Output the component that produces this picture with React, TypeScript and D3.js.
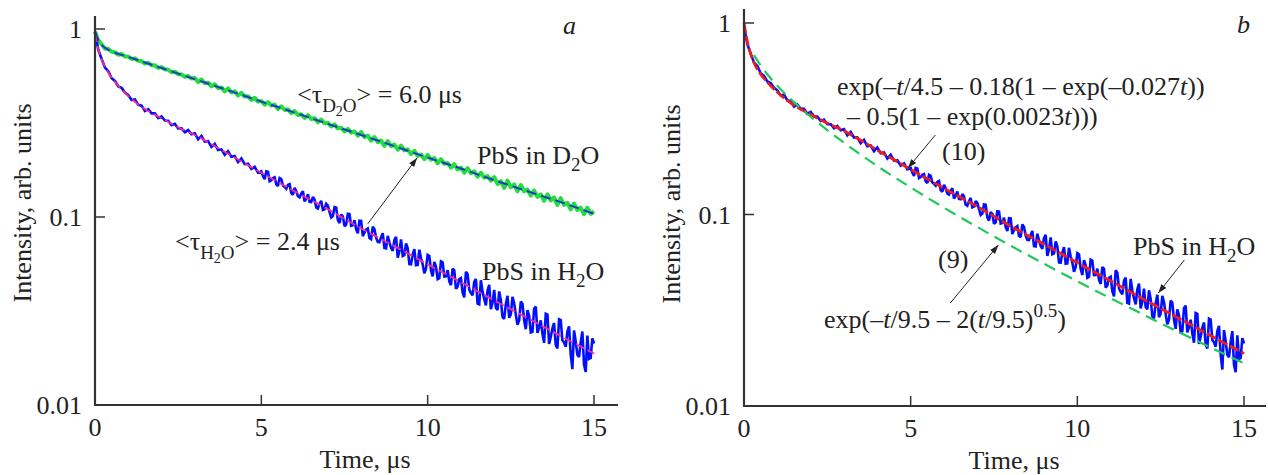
import React from "react";
import * as d3 from "d3";

// Measured PL decays, sampled every 0.1 us from 0 to 15 us
const timeGrid = d3.range(0, 151).map((i) => i / 10);

const h2oMeasured = [
  0.958, 0.775, 0.692, 0.623, 0.596, 0.547, 0.529, 0.495, 0.486, 0.459,
  0.445, 0.419, 0.422, 0.395, 0.391, 0.366, 0.375, 0.356, 0.356, 0.336,
  0.343, 0.326, 0.325, 0.308, 0.313, 0.296, 0.296, 0.282, 0.29, 0.2755,
  0.279, 0.259, 0.27, 0.252, 0.253, 0.236, 0.245, 0.227, 0.229, 0.214,
  0.224, 0.209, 0.211, 0.196, 0.205, 0.191, 0.192, 0.18, 0.185, 0.172,
  0.175, 0.159, 0.174, 0.157, 0.1625, 0.146, 0.159, 0.1445, 0.148, 0.134,
  0.143, 0.129, 0.133, 0.121, 0.132, 0.12, 0.124, 0.111, 0.122, 0.11,
  0.115, 0.0994, 0.113, 0.0965, 0.103, 0.0894, 0.104, 0.0897, 0.0962, 0.0819,
  0.0954, 0.0827, 0.0869, 0.0762, 0.0861, 0.0738, 0.0781, 0.0684, 0.0793, 0.0684,
  0.0755, 0.0607, 0.076, 0.0626, 0.0682, 0.056, 0.0675, 0.0556, 0.0603, 0.0502,
  0.0628, 0.052, 0.0577, 0.0467, 0.0581, 0.0482, 0.0522, 0.0434, 0.052, 0.0426,
  0.0473, 0.0374, 0.0497, 0.0394, 0.0451, 0.0346, 0.0461, 0.0366, 0.0407, 0.0323,
  0.041, 0.032, 0.0361, 0.0287, 0.0381, 0.0303, 0.0348, 0.0267, 0.0355, 0.0282,
  0.032, 0.0243, 0.0325, 0.0242, 0.0282, 0.0214, 0.0303, 0.023, 0.0273, 0.02,
  0.0283, 0.0215, 0.0246, 0.0186, 0.0249, 0.0185, 0.0216, 0.0164, 0.0234, 0.0178,
  0.0212,
];

// extra H2O samples in between (t = 5.05 ... 14.95 us), where the noise is dense
const midGrid = d3.range(0, 100).map((i) => 5.05 + i / 10);
const h2oMeasuredMid = [
  0.165, 0.175, 0.155, 0.161, 0.149, 0.161, 0.147, 0.1414, 0.1495, 0.1314,
  0.1371, 0.1272, 0.1371, 0.1251, 0.1205, 0.1279, 0.1125, 0.1174, 0.109, 0.1175,
  0.1065, 0.1012, 0.1124, 0.0929, 0.1009, 0.091, 0.1036, 0.0903, 0.086, 0.0956,
  0.0791, 0.0856, 0.0774, 0.0888, 0.0776, 0.0735, 0.082, 0.0681, 0.0734, 0.0661,
  0.0783, 0.0658, 0.062, 0.0723, 0.0562, 0.0631, 0.0554, 0.067, 0.0561, 0.0531,
  0.062, 0.0483, 0.0543, 0.0473, 0.0574, 0.0483, 0.0455, 0.0532, 0.0415, 0.0467,
  0.0397, 0.0511, 0.0411, 0.0383, 0.0468, 0.0343, 0.0401, 0.0339, 0.0436, 0.0351,
  0.0329, 0.0402, 0.0294, 0.0344, 0.0291, 0.0376, 0.0302, 0.0282, 0.0346, 0.0253,
  0.0298, 0.0245, 0.0334, 0.0259, 0.0239, 0.0306, 0.0211, 0.0256, 0.0209, 0.0286,
  0.0221, 0.0204, 0.0262, 0.0155, 0.0218, 0.018, 0.0246, 0.015, 0.0176, 0.0226,
];

const d2oMeasured = [
  0.97, 0.869, 0.828, 0.785, 0.784, 0.756, 0.753, 0.729, 0.736, 0.715,
  0.714, 0.693, 0.698, 0.677, 0.675, 0.655, 0.661, 0.642, 0.641, 0.621,
  0.627, 0.61, 0.607, 0.589, 0.593, 0.575, 0.573, 0.557, 0.562, 0.546,
  0.549, 0.522, 0.539, 0.515, 0.518, 0.495, 0.508, 0.484, 0.489, 0.466,
  0.483, 0.46, 0.466, 0.443, 0.458, 0.437, 0.439, 0.42, 0.431, 0.411,
  0.414, 0.396, 0.409, 0.391, 0.396, 0.375, 0.388, 0.371, 0.374, 0.357,
  0.366, 0.349, 0.352, 0.336, 0.348, 0.332, 0.336, 0.319, 0.33, 0.315,
  0.317, 0.303, 0.311, 0.296, 0.298, 0.285, 0.294, 0.281, 0.285, 0.271,
  0.283, 0.266, 0.271, 0.255, 0.266, 0.25, 0.255, 0.239, 0.253, 0.238,
  0.243, 0.228, 0.24, 0.226, 0.229, 0.216, 0.225, 0.211, 0.215, 0.203,
  0.214, 0.202, 0.206, 0.193, 0.203, 0.192, 0.194, 0.183, 0.191, 0.179,
  0.183, 0.172, 0.182, 0.171, 0.175, 0.164, 0.172, 0.162, 0.165, 0.156,
  0.163, 0.15, 0.155, 0.143, 0.156, 0.144, 0.149, 0.137, 0.148, 0.137,
  0.14, 0.13, 0.138, 0.128, 0.132, 0.122, 0.132, 0.1225, 0.127, 0.116,
  0.126, 0.116, 0.119, 0.11, 0.118, 0.109, 0.112, 0.1035, 0.112, 0.104,
  0.107,
];

// Fitted curves
const fitTimes = [0, 0.1, 0.2, 0.3, 0.5, 0.7, 1, 1.5, 2, 2.5, 3, 4, 5, 6, 7, 8, 9, 10, 11, 12, 13, 14, 15];
const h2oFit = [0.95, 0.78, 0.69, 0.63, 0.55, 0.5, 0.44, 0.375, 0.335, 0.3, 0.273, 0.217, 0.172, 0.137, 0.11, 0.087, 0.07, 0.056, 0.045, 0.036, 0.029, 0.0233, 0.0188];
const d2oFit = [0.97, 0.875, 0.825, 0.795, 0.76, 0.737, 0.71, 0.663, 0.62, 0.579, 0.541, 0.472, 0.411, 0.359, 0.313, 0.273, 0.238, 0.207, 0.181, 0.157, 0.137, 0.12, 0.104];
const model10 = [1.0, 0.8, 0.69, 0.62, 0.54, 0.49, 0.435, 0.372, 0.333, 0.3, 0.273, 0.217, 0.172, 0.137, 0.11, 0.087, 0.07, 0.056, 0.045, 0.036, 0.029, 0.0233, 0.0188];
const model9Times = [0.3, 0.5, 0.75, 1, 1.5, 2, 3, 4, 5, 6, 7, 8, 9, 10, 11, 12, 13, 14, 15];
const model9 = [0.68, 0.6, 0.527, 0.47, 0.386, 0.324, 0.237, 0.179, 0.1385, 0.1085, 0.086, 0.0687, 0.0553, 0.0448, 0.0365, 0.0299, 0.0245, 0.0202, 0.0167];

const xTicks = [0, 5, 10, 15];
const yTicks = [1, 0.1, 0.01];
const yTickLabels = ["1", "0.1", "0.01"];

const FONT = '"Liberation Serif", "Times New Roman", Times, serif';
const AXIS = "#333";
const BLUE = "#0010ff";

type Scale = d3.ScaleLinear<number, number>;
type LogScale = d3.ScaleLogarithmic<number, number>;

const zip = (t: number[], v: number[]) => t.map((d, i) => [d, v[i]] as [number, number]);

function makeLine(x: Scale, y: LogScale, curve = d3.curveLinear) {
  return d3
    .line<[number, number]>()
    .x((d) => x(d[0]))
    .y((d) => y(d[1]))
    .curve(curve);
}

function Axes({ x, y, axisEnd, axisTop, titleX, titleY, timeX }: any) {
  const x0 = x(0);
  const y0 = y(0.01);
  return (
    <g fontFamily={FONT} fontSize={26} fill="#222">
      <line x1={x0} y1={axisTop} x2={x0} y2={y0} stroke={AXIS} strokeWidth={2.2} />
      <line x1={x0 - 1} y1={y0} x2={axisEnd} y2={y0} stroke={AXIS} strokeWidth={2.2} />
      {xTicks.map((t) => (
        <g key={t}>
          {t > 0 && <line x1={x(t)} x2={x(t)} y1={y0} y2={y0 - 10} stroke={AXIS} strokeWidth={1.5} />}
          <text x={x(t)} y={y0 + 31} textAnchor="middle">
            {t}
          </text>
        </g>
      ))}
      {yTicks.map((v, i) => (
        <g key={v}>
          {v > 0.01 && <line x1={x0} x2={x0 + 10} y1={y(v)} y2={y(v)} stroke={AXIS} strokeWidth={1.5} />}
          <text x={x0 - 13} y={y(v) + 9} textAnchor="end">
            {yTickLabels[i]}
          </text>
        </g>
      ))}
      <text transform={`translate(${titleX},${titleY}) rotate(-90)`} textAnchor="middle">
        Intensity, arb. units
      </text>
      <text x={timeX} y={y0 + 63} textAnchor="middle">
        Time, μs
      </text>
    </g>
  );
}

function Arrow({ from, to, x, y }: any) {
  return (
    <line
      x1={x(from[0])}
      y1={y(from[1])}
      x2={x(to[0])}
      y2={y(to[1])}
      stroke="#222"
      strokeWidth={1}
      markerEnd="url(#arrowHead)"
    />
  );
}

export default function App() {
  // panel a
  const xa = d3.scaleLinear().domain([0, 15]).range([95, 594]);
  const ya = d3.scaleLog().domain([0.01, 1]).range([405, 29]);
  // panel b
  const xb = d3.scaleLinear().domain([0, 15]).range([744, 1244]);
  const yb = d3.scaleLog().domain([0.01, 1]).range([406, 23]);

  const la = makeLine(xa, ya);
  const lafit = makeLine(xa, ya, d3.curveMonotoneX);
  const lb = makeLine(xb, yb);
  const lbfit = makeLine(xb, yb, d3.curveMonotoneX);

  const h2oData = zip(timeGrid, h2oMeasured)
    .concat(zip(midGrid, h2oMeasuredMid))
    .sort((p, q) => p[0] - q[0]);
  const d2oData = zip(timeGrid, d2oMeasured);

  const sub = { fontSize: 19 };
  const sub2 = { fontSize: 14 };

  return (
    <svg width={1268} height={475} style={{ position: "absolute", left: 0, top: 0, background: "#fff" }}>
      <defs>
        <marker id="arrowHead" viewBox="0 0 10 10" refX={10} refY={5} markerWidth={9} markerHeight={9} markerUnits="userSpaceOnUse" orient="auto">
          <path d="M0,1.5 L10,5 L0,8.5 z" fill="#222" />
        </marker>
      </defs>

      {/* ---- panel a ---- */}
      <path d={la(d2oData) || ""} fill="none" stroke="#22dd3c" strokeWidth={4} strokeLinejoin="round" />
      <path d={lafit(zip(fitTimes, d2oFit)) || ""} fill="none" stroke="#1c3cc8" strokeWidth={2} strokeDasharray="10 5" />
      <path d={la(h2oData) || ""} fill="none" stroke={BLUE} strokeWidth={2.6} strokeLinejoin="miter" strokeMiterlimit={2} />
      <path d={lafit(zip(fitTimes, h2oFit)) || ""} fill="none" stroke="#ff2a86" strokeWidth={1.8} strokeDasharray="9 4" />
      <Axes x={xa} y={ya} axisEnd={618} axisTop={16} titleX={31} titleY={203} timeX={365} />
      <Arrow x={xa} y={ya} from={[8.2, 0.092]} to={[9.68, 0.206]} />
      <g fontFamily={FONT} fontSize={26} fill="#222">
        <text x={563} y={34} fontStyle="italic">a</text>
        <text x={297} y={103}>
          {"<τ"}
          <tspan dy={9} {...sub}>D</tspan>
          <tspan dy={4} {...sub2}>2</tspan>
          <tspan dy={-4} {...sub}>O</tspan>
          <tspan dy={-9}>{"> = 6.0 μs"}</tspan>
        </text>
        <text x={477} y={164}>
          PbS in D<tspan dy={7} {...sub}>2</tspan>
          <tspan dy={-7}>O</tspan>
        </text>
        <text x={175} y={250}>
          {"<τ"}
          <tspan dy={9} {...sub}>H</tspan>
          <tspan dy={4} {...sub2}>2</tspan>
          <tspan dy={-4} {...sub}>O</tspan>
          <tspan dy={-9}>{"> = 2.4 μs"}</tspan>
        </text>
        <text x={482} y={280}>
          PbS in H<tspan dy={7} {...sub}>2</tspan>
          <tspan dy={-7}>O</tspan>
        </text>
      </g>

      {/* ---- panel b ---- */}
      <path d={lb(h2oData) || ""} fill="none" stroke={BLUE} strokeWidth={2.6} strokeLinejoin="miter" strokeMiterlimit={2} />
      <path d={lbfit(zip(fitTimes, model10)) || ""} fill="none" stroke="#ee1c1c" strokeWidth={2.8} strokeDasharray="10 3" />
      <path d={lbfit(zip(model9Times, model9)) || ""} fill="none" stroke="#20c85a" strokeWidth={2.2} strokeDasharray="12 7" />
      <Axes x={xb} y={yb} axisEnd={1266} axisTop={9} titleX={680} titleY={204} timeX={1014} />
      <Arrow x={xb} y={yb} from={[5.74, 0.26]} to={[4.92, 0.175]} />
      <Arrow x={xb} y={yb} from={[6.19, 0.0345]} to={[7.63, 0.0693]} />
      <Arrow x={xb} y={yb} from={[13.21, 0.0579]} to={[12.43, 0.0389]} />
      <g fontFamily={FONT} fontSize={26} fill="#222">
        <text x={1237} y={33} fontStyle="italic">b</text>
        <text x={837} y={95}>
          exp(–<tspan fontStyle="italic">t</tspan>/4.5 – 0.18(1 – exp(–0.027<tspan fontStyle="italic">t</tspan>))
        </text>
        <text x={847} y={125}>
          – 0.5(1 – exp(0.0023<tspan fontStyle="italic">t</tspan>)))
        </text>
        <text x={942} y={160}>(10)</text>
        <text x={938} y={268}>(9)</text>
        <text x={824} y={328}>
          exp(–<tspan fontStyle="italic">t</tspan>/9.5 – 2(<tspan fontStyle="italic">t</tspan>/9.5)
          <tspan dy={-11} {...sub}>0.5</tspan>
          <tspan dy={11}>)</tspan>
        </text>
        <text x={1133} y={255}>
          PbS in H<tspan dy={7} {...sub}>2</tspan>
          <tspan dy={-7}>O</tspan>
        </text>
      </g>
    </svg>
  );
}
